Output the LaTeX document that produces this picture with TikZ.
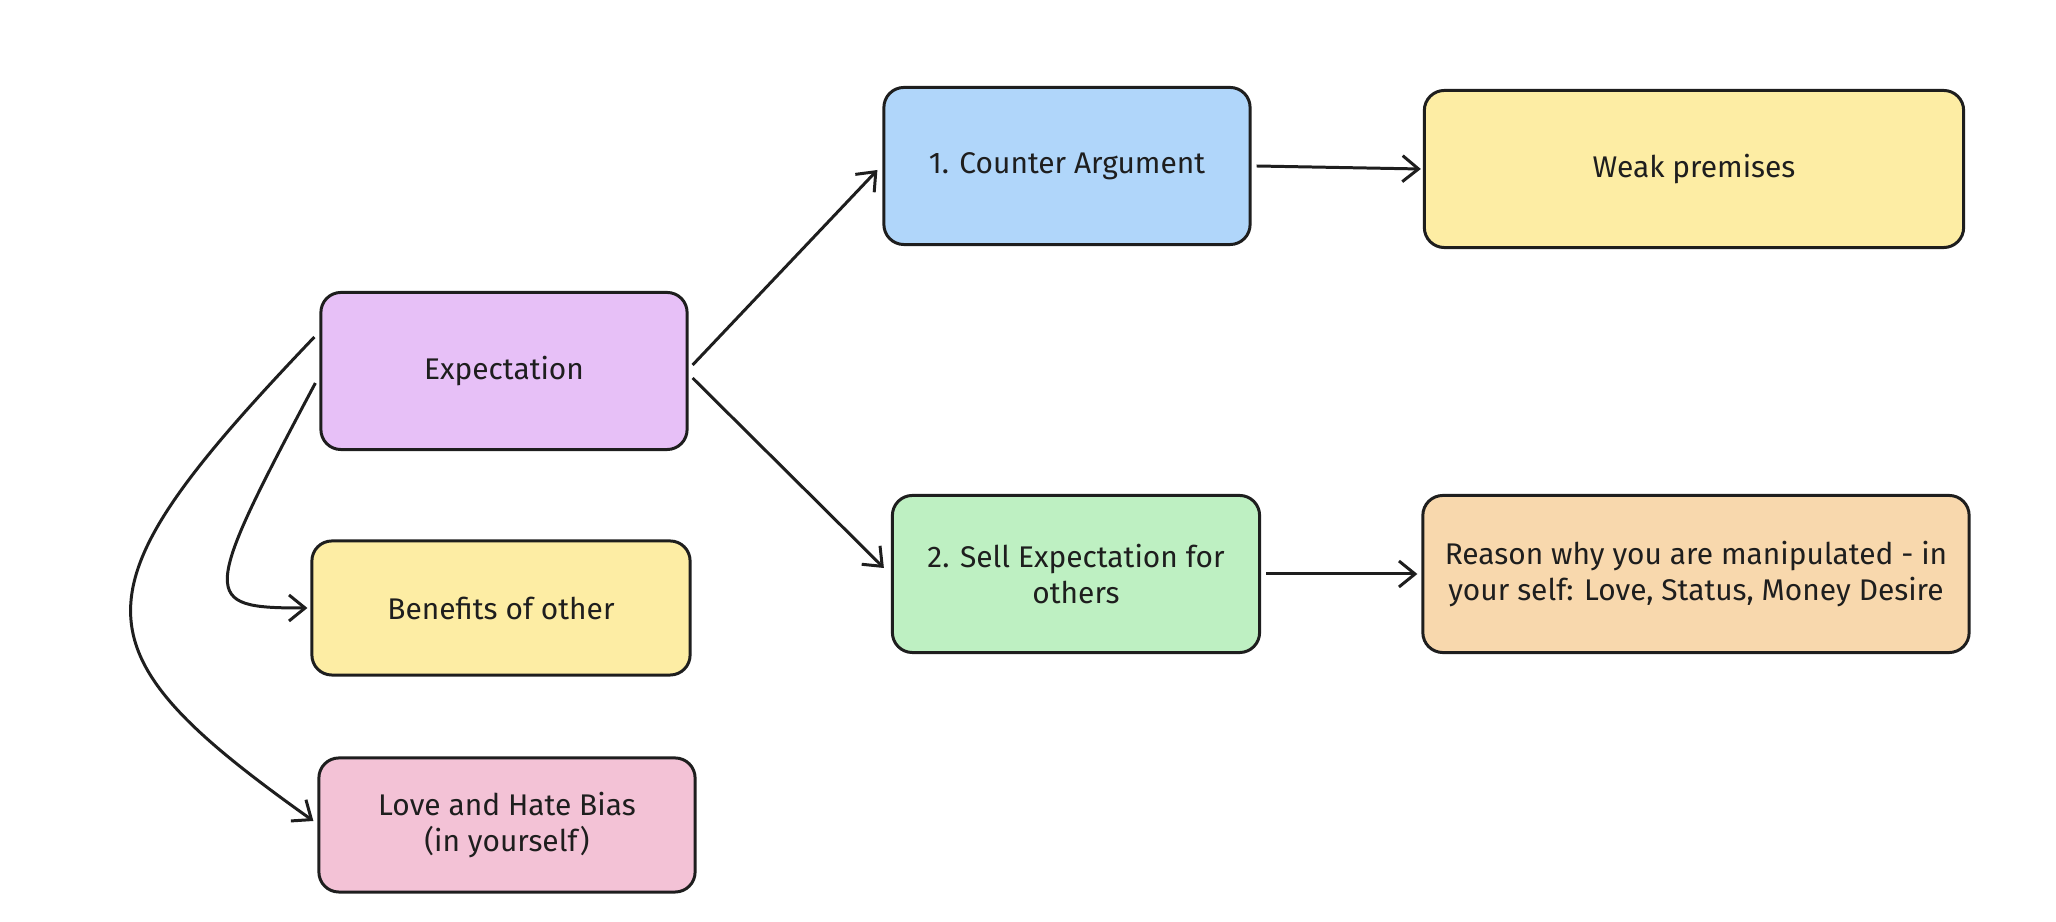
\documentclass[tikz,border=0pt]{standalone}
\usepackage{fontspec}
\setmainfont{Fira Sans}
\usetikzlibrary{arrows.meta,calc}
\definecolor{ink}{HTML}{1E1E1E}
\definecolor{violetbg}{HTML}{E7C0F7}
\definecolor{yellowbg}{HTML}{FDEDA4}
\definecolor{pinkbg}{HTML}{F3C2D6}
\definecolor{bluebg}{HTML}{B0D6FA}
\definecolor{greenbg}{HTML}{BEF0C2}
\definecolor{orangebg}{HTML}{F8D8AD}
\begin{document}
\begin{tikzpicture}[x=0.01cm, y=-0.01cm, font=\fontsize{8.5}{10}\selectfont,
    box/.style={draw=ink, line width=0.85pt, rounded corners=2mm, align=center, text=ink, minimum height=1.57cm},
    arr/.style={draw=ink, line width=0.85pt, -{Straight Barb[length=1.6mm,width=2.6mm]}}]
  \useasboundingbox (0,0) rectangle (2056,922);
  \node[box, fill=violetbg, minimum width=3.66cm] (expect) at (504,371) {Expectation};
  \node[box, fill=yellowbg, minimum width=3.78cm, minimum height=1.34cm] (benefit) at (501,608) {Benefits of other};
  \node[box, fill=pinkbg, minimum width=3.76cm, minimum height=1.34cm] (bias) at (507,825) {Love and Hate Bias\\(in yourself)};
  \node[box, fill=bluebg, minimum width=3.66cm] (counter) at (1067,166) {1. Counter Argument};
  \node[box, fill=greenbg, minimum width=3.67cm] (sell) at (1076,574) {2. Sell Expectation for\\others};
  \node[box, fill=yellowbg, minimum width=5.39cm] (weak) at (1694,169) {Weak premises};
  \node[box, fill=orangebg, minimum width=5.46cm] (reason) at (1696,574) {Reason why you are manipulated - in\\your self: Love, Status, Money Desire};
  \draw[arr] ($(expect.east)+(4,-6)$) -- ($(counter.west)+(-5,4)$);
  \draw[arr] ($(expect.east)+(4,7)$) -- ($(sell.west)+(-7,-6)$);
  \draw[arr] ($(counter.east)+(5,0)$) -- ($(weak.west)+(-2,0)$);
  \draw[arr] ($(sell.east)+(5,0)$) -- ($(reason.west)+(-4,0)$);
  \draw[arr] ($(expect.west)+(-5,-34)$) .. controls (70,593) and (70,648) .. ($(bias.west)+(-4,-4)$);
  \draw[arr] ($(expect.west)+(-4,12)$) .. controls (200,600) and (200,608) .. ($(benefit.west)+(-3,0)$);
\end{tikzpicture}
\end{document}
